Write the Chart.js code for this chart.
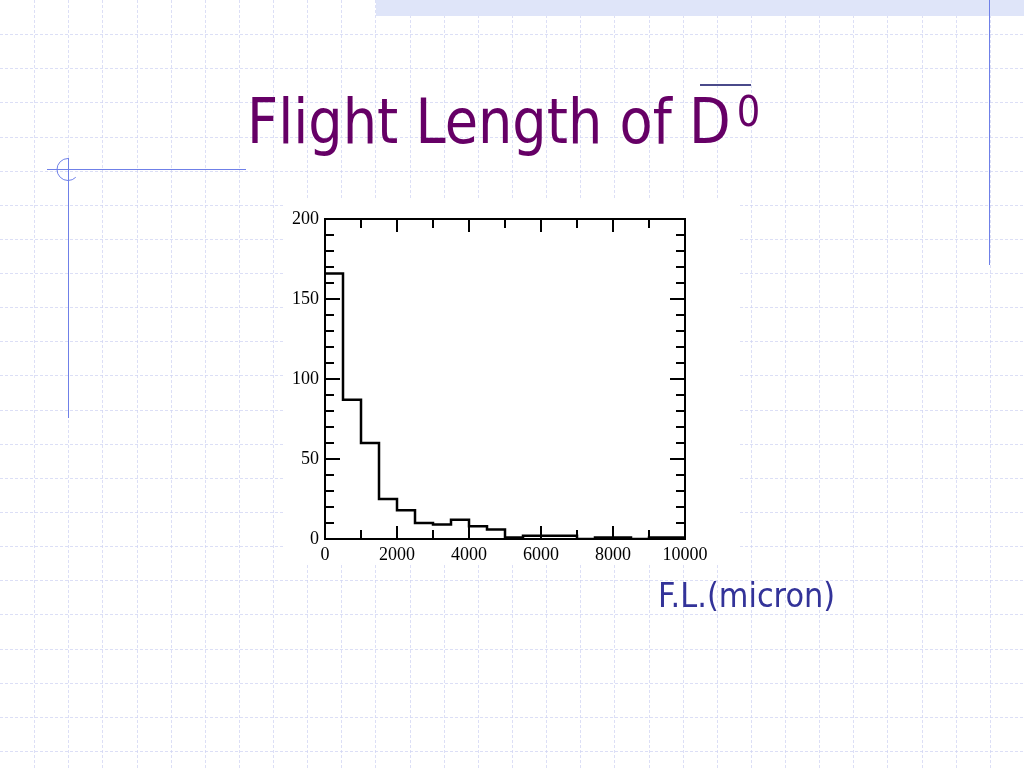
<!DOCTYPE html>
<html>
<head>
<meta charset="utf-8">
<script src="https://cdn.jsdelivr.net/npm/chart.js@4"></script>
<style>
  html, body { margin: 0; padding: 0; background: #fff; }
  #page { position: relative; width: 1024px; height: 768px; overflow: hidden; }
  #slide { position: absolute; left: 0; top: 0; }
  #title {
    position: absolute; left: 247px; top: 90px; white-space: nowrap;
    font-family: 'DejaVu Sans', sans-serif; font-size: 63px; line-height: 63px;
    color: #660066; transform: scaleX(0.86); transform-origin: left top;
  }
  #title sup { font-size: 43px; vertical-align: 17px; line-height: 0; margin-left: 7px; }
  #overbar { position: absolute; left: 700px; top: 84px; width: 51px; height: 2px; background: #4a4a8a; }
  #xunit {
    position: absolute; left: 658px; top: 578px; white-space: nowrap;
    font-family: 'DejaVu Sans', sans-serif; font-size: 34px; line-height: 34px;
    color: #333399; transform: scaleX(0.895); transform-origin: left top;
  }
  #chartBox { position: absolute; left: 285px; top: 200px; width: 455px; height: 365px; background: #fff; }
</style>
</head>
<body>
<div id="page">
  <canvas id="slide" width="1024" height="768"></canvas>
  <div id="title">Flight Length of D<sup>0</sup></div>
  <div id="overbar"></div>
  <div id="chartBox"><canvas id="flChart"></canvas></div>
  <div id="xunit">F.L.(micron)</div>
</div>
<script>
// Flight length histogram, 500 micron bins
const binEdges = [0, 500, 1000, 1500, 2000, 2500, 3000, 3500, 4000, 4500, 5000,
  5500, 6000, 6500, 7000, 7500, 8000, 8500, 9000, 9500, 10000];
const counts = [166, 87, 60, 25, 18, 10, 9, 12, 8, 6, 1, 2, 2, 2, 0, 1, 1, 0, 1, 1];
const xTickLabels = [0, 2000, 4000, 6000, 8000, 10000];
const yTickLabels = [0, 50, 100, 150, 200];

// slide background: dashed grid + blue decoration lines
function drawSlide() {
  const g = document.getElementById('slide').getContext('2d');
  const step = 1024 / 30;
  g.strokeStyle = 'rgba(205,210,242,0.7)';
  g.lineWidth = 1;
  g.setLineDash([3, 2]);
  g.beginPath();
  for (let x = step; x < 1024; x += step) {
    const px = Math.round(x) + 0.5;
    g.moveTo(px, 0); g.lineTo(px, 768);
  }
  for (let y = step; y < 768; y += step) {
    const py = Math.round(y) + 0.5;
    g.moveTo(0, py); g.lineTo(1024, py);
  }
  g.stroke();
  g.setLineDash([]);

  g.fillStyle = '#dfe5f9';
  g.fillRect(376, 0, 648, 16);

  g.strokeStyle = '#6f80e8';
  g.lineWidth = 1;
  g.beginPath();
  g.moveTo(989.5, 0); g.lineTo(989.5, 265);
  g.moveTo(68.5, 158); g.lineTo(68.5, 418);
  g.moveTo(47, 169.5); g.lineTo(246, 169.5);
  g.stroke();
  g.beginPath();
  g.arc(68, 169.5, 11, -Math.PI / 2, Math.PI / 4, true);
  g.stroke();
}

// frame + inward ticks on all four sides
const frameTicks = {
  id: 'frameTicks',
  afterDraw(chart) {
    const { ctx, chartArea: a, scales } = chart;
    const xs = scales.x, ys = scales.y;
    ctx.save();
    ctx.strokeStyle = '#000';
    ctx.lineWidth = 2;
    ctx.strokeRect(a.left, a.top, a.right - a.left, a.bottom - a.top);
    ctx.beginPath();
    for (let v = 1000; v < 10000; v += 1000) {
      const px = xs.getPixelForValue(v);
      const len = v % 2000 === 0 ? 13 : 9;
      ctx.moveTo(px, a.bottom); ctx.lineTo(px, a.bottom - len);
      ctx.moveTo(px, a.top); ctx.lineTo(px, a.top + len);
    }
    for (let v = 10; v < 200; v += 10) {
      const py = ys.getPixelForValue(v);
      const len = v % 50 === 0 ? 15 : 9;
      ctx.moveTo(a.left, py); ctx.lineTo(a.left + len, py);
      ctx.moveTo(a.right, py); ctx.lineTo(a.right - len, py);
    }
    ctx.stroke();
    ctx.restore();
  }
};

function renderChart() {
  const ctx = document.getElementById('flChart').getContext('2d');
  const points = binEdges.map((x, i) => ({ x, y: counts[Math.min(i, counts.length - 1)] }));
  const tickFont = { family: "'Liberation Serif', serif", size: 18 };

  new Chart(ctx, {
    type: 'line',
    data: {
      datasets: [{
        data: points,
        stepped: 'before',
        borderColor: '#000',
        borderWidth: 2.5,
        pointRadius: 0,
        fill: false
      }]
    },
    options: {
      responsive: true,
      maintainAspectRatio: false,
      animation: false,
      layout: { padding: { top: 19, right: 55, left: 0, bottom: 0 } },
      plugins: { legend: { display: false }, tooltip: { enabled: false } },
      scales: {
        x: {
          type: 'linear', min: 0, max: 10000,
          afterBuildTicks: s => { s.ticks = xTickLabels.map(v => ({ value: v })); },
          afterFit: s => { s.height = 26; },
          ticks: { color: '#000', font: tickFont, padding: 5, maxRotation: 0, autoSkip: false, callback: v => String(v) },
          grid: { display: false, drawTicks: false },
          border: { display: false }
        },
        y: {
          min: 0, max: 200,
          afterBuildTicks: s => { s.ticks = yTickLabels.map(v => ({ value: v })); },
          afterFit: s => { s.width = 40; },
          ticks: { color: '#000', font: tickFont, padding: 6, callback: v => String(v) },
          grid: { display: false, drawTicks: false },
          border: { display: false }
        }
      }
    },
    plugins: [frameTicks]
  });
}

drawSlide();
document.addEventListener('DOMContentLoaded', renderChart);
</script>
</body>
</html>
